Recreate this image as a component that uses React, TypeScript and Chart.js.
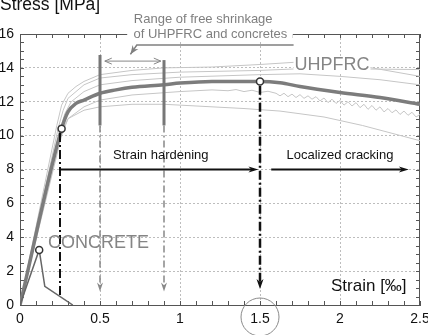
import { useEffect, useRef } from 'react';
import { Chart, registerables } from 'chart.js';

Chart.register(...registerables);

const FONT = '"Liberation Sans", Arial, Helvetica, sans-serif';

// ---- axes ----
const xTickLabels = ['0', '0.5', '1', '1.5', '2', '2.5'];
const yTickLabels = ['0', '2', '4', '6', '8', '10', '12', '14', '16'];
const xMinorStep = 0.1;
const yMinorStep = 0.5;

// ---- UHPFRC mean curve (thick) ----
const meanStrain = [0, 0.26, 0.3, 0.35, 0.4, 0.5, 0.6, 0.7, 0.9, 1.0, 1.2, 1.5, 1.625, 1.75, 2.0, 2.25, 2.5];
const meanStress = [0, 10.4, 11.4, 11.9, 12.1, 12.5, 12.7, 12.85, 13.0, 13.1, 13.2, 13.2, 13.12, 12.9, 12.55, 12.25, 11.85];

// ---- UHPFRC individual specimens (thin) ----
const specAStrain = [0, 0.23, 0.26, 0.3, 0.35, 0.4, 0.5, 0.7, 0.9, 1.2, 1.5, 1.75, 1.9, 2.2, 2.5];
const specAStress = [0, 10.6, 11.8, 12.5, 12.9, 13.2, 13.6, 13.85, 14.0, 14.05, 14.2, 14.35, 14.3, 14.0, 13.5];
const specBStrain = [0, 0.24, 0.27, 0.3, 0.4, 0.5, 0.7, 1.0, 1.5, 1.75, 2.0, 2.5];
const specBStress = [0, 10.5, 11.5, 12.2, 13.0, 13.4, 13.6, 13.75, 13.85, 13.95, 13.95, 13.9];
const specCStrain = [0, 0.25, 0.28, 0.32, 0.4, 0.5, 0.7, 1.0, 1.5, 1.75, 2.0, 2.25, 2.5];
const specCStress = [0, 10.3, 11.3, 12.0, 12.6, 13.0, 13.25, 13.45, 13.6, 13.65, 13.5, 13.3, 13.0];
const specDStrain = [0, 0.25, 0.3, 0.4, 0.5, 0.7, 1.0, 1.2, 1.3, 1.35, 1.4, 1.45, 1.5, 1.55, 1.6, 1.625, 1.65, 1.675, 1.7, 1.725, 1.75, 1.775, 1.8, 1.825, 1.85, 1.875, 1.9, 1.925, 1.95, 1.975, 2.0, 2.025, 2.05, 2.075, 2.1, 2.125, 2.15, 2.175, 2.2, 2.225, 2.25, 2.275, 2.3, 2.325, 2.35, 2.375, 2.4, 2.425, 2.45, 2.475, 2.5];
const specDStress = [0, 10.0, 11.0, 11.7, 12.1, 12.4, 12.6, 12.7, 12.65, 12.72, 12.6, 12.68, 12.55, 12.62, 12.5, 12.35, 12.5, 12.3, 12.45, 12.25, 12.42, 12.2, 12.35, 12.15, 12.3, 12.05, 12.22, 11.95, 12.15, 11.9, 12.08, 11.8, 12.0, 11.75, 11.95, 11.65, 11.85, 11.55, 11.78, 11.5, 11.7, 11.4, 11.6, 11.35, 11.52, 11.25, 11.45, 11.2, 11.38, 11.1, 11.25];
const specEStrain = [0, 0.26, 0.3, 0.4, 0.5, 0.7, 0.9, 1.2, 1.4, 1.625, 1.9, 2.14, 2.3, 2.5];
const specEStress = [0, 10.0, 11.0, 11.5, 11.7, 11.85, 11.85, 11.7, 11.6, 11.45, 11.1, 10.6, 10.2, 9.7];

// ---- concrete ----
const concreteStrain = [0, 0.12, 0.155, 0.33];
const concreteStress = [0, 3.25, 1.1, 0];

// ---- key points (open circles) ----
const keyStrain = [0.26, 1.5, 0.12];
const keyStress = [10.4, 13.2, 3.25];

// ---- annotation values (data units) ----
const shrinkStrain = [0.5, 0.9];
const shrinkBarTop = [14.76, 14.46];
const shrinkBarBottom = [10.6, 10.6];
const shrinkArrowTip = [0.8, 0.8];
const hardeningStrain = 0.25;
const hardeningLine = [10.15, 0.5];
const peakStrain = 1.5;
const peakLine = [12.95, 0.95];
const phaseArrowStress = 8;
const hardeningArrow = [0.25, 1.49];
const crackingArrow = [1.57, 2.43];
const rangeArrowStress = 14.4;
const rangeArrow = [0.53, 0.88];
const noteLeaderX = [1.71, 0.73, 0.69];
const noteLeaderY = [15.35, 15.35, 14.8];

const pts = (xs: number[], ys: number[]) => xs.map((x, i) => ({ x, y: ys[i] }));

const thin = (xs: number[], ys: number[], order: number) => ({
  data: pts(xs, ys),
  showLine: true,
  borderColor: '#c6c6c6',
  borderWidth: 1,
  pointRadius: 0,
  order,
});

const seg = (x1: number, y1: number, x2: number, y2: number, color: string, width: number, dash: number[], order: number) => ({
  data: [{ x: x1, y: y1 }, { x: x2, y: y2 }],
  showLine: true,
  borderColor: color,
  borderWidth: width,
  borderDash: dash,
  pointRadius: 0,
  order,
});

function arrowHead(ctx: CanvasRenderingContext2D, tx: number, ty: number, ang: number, len: number, hw: number, color: string, open = false) {
  const bx = tx - Math.cos(ang) * len;
  const by = ty - Math.sin(ang) * len;
  const nx = -Math.sin(ang) * hw;
  const ny = Math.cos(ang) * hw;
  ctx.save();
  ctx.setLineDash([]);
  if (open) {
    ctx.strokeStyle = color;
    ctx.lineWidth = 1;
    ctx.beginPath();
    ctx.moveTo(bx + nx, by + ny);
    ctx.lineTo(tx, ty);
    ctx.lineTo(bx - nx, by - ny);
    ctx.stroke();
  } else {
    ctx.fillStyle = color;
    ctx.beginPath();
    ctx.moveTo(tx, ty);
    ctx.lineTo(bx + nx, by + ny);
    ctx.lineTo(tx - Math.cos(ang) * len * 0.7, ty - Math.sin(ang) * len * 0.7);
    ctx.lineTo(bx - nx, by - ny);
    ctx.closePath();
    ctx.fill();
  }
  ctx.restore();
}

const annotations = {
  id: 'annotations',
  beforeDatasetsDraw(chart: any) {
    const { ctx, chartArea: a, scales } = chart;
    const x = scales.x;
    const y = scales.y;
    ctx.save();
    ctx.strokeStyle = '#555';
    ctx.lineWidth = 1;
    ctx.setLineDash([]);
    ctx.beginPath();
    ctx.moveTo(a.left, a.top + 0.5);
    ctx.lineTo(a.right, a.top + 0.5);
    ctx.moveTo(a.right - 0.5, a.top);
    ctx.lineTo(a.right - 0.5, a.bottom);
    const nx = Math.round((x.max - x.min) / xMinorStep);
    for (let i = 0; i <= nx; i++) {
      const px = Math.round(x.getPixelForValue(x.min + i * xMinorStep)) + 0.5;
      ctx.moveTo(px, a.bottom);
      ctx.lineTo(px, a.bottom - 4);
      ctx.moveTo(px, a.top);
      ctx.lineTo(px, a.top + 4);
    }
    const ny = Math.round((y.max - y.min) / yMinorStep);
    for (let i = 0; i <= ny; i++) {
      const py = Math.round(y.getPixelForValue(y.min + i * yMinorStep)) + 0.5;
      ctx.moveTo(a.left, py);
      ctx.lineTo(a.left + 4, py);
      ctx.moveTo(a.right, py);
      ctx.lineTo(a.right - 4, py);
    }
    ctx.stroke();
    ctx.restore();
  },
  afterDatasetsDraw(chart: any) {
    const { ctx, chartArea: a, scales } = chart;
    const X = (v: number) => scales.x.getPixelForValue(v);
    const Y = (v: number) => scales.y.getPixelForValue(v);
    ctx.save();

    // arrow heads on vertical dash-dot lines
    shrinkStrain.forEach((s, i) => arrowHead(ctx, X(s), Y(shrinkArrowTip[i]), Math.PI / 2, 9, 3, '#888'));
    arrowHead(ctx, X(peakStrain), Y(peakLine[1]), Math.PI / 2, 10, 3.5, '#111');

    // horizontal phase arrows heads
    arrowHead(ctx, X(hardeningArrow[1]), Y(phaseArrowStress), 0, 10, 3, '#111');
    arrowHead(ctx, X(crackingArrow[1]), Y(phaseArrowStress), 0, 10, 3, '#111');

    // double arrow for shrinkage range
    ctx.strokeStyle = '#888';
    ctx.lineWidth = 1;
    ctx.beginPath();
    ctx.moveTo(X(rangeArrow[0]), Y(rangeArrowStress));
    ctx.lineTo(X(rangeArrow[1]), Y(rangeArrowStress));
    ctx.stroke();
    arrowHead(ctx, X(rangeArrow[0]), Y(rangeArrowStress), Math.PI, 7, 3, '#888', true);
    arrowHead(ctx, X(rangeArrow[1]), Y(rangeArrowStress), 0, 7, 3, '#888', true);

    // white box behind note text (covers top frame)
    ctx.fillStyle = '#fff';
    ctx.fillRect(X(0.67), Y(16.4), X(1.705) - X(0.67), Y(15.55) - Y(16.4));

    // leader line from note
    ctx.strokeStyle = '#808080';
    ctx.lineWidth = 1.5;
    ctx.beginPath();
    noteLeaderX.forEach((v, i) => (i ? ctx.lineTo(X(v), Y(noteLeaderY[i])) : ctx.moveTo(X(v), Y(noteLeaderY[i]))));
    ctx.stroke();
    const n = noteLeaderX.length;
    const ang = Math.atan2(Y(noteLeaderY[n - 1]) - Y(noteLeaderY[n - 2]), X(noteLeaderX[n - 1]) - X(noteLeaderX[n - 2]));
    arrowHead(ctx, X(noteLeaderX[n - 1]), Y(noteLeaderY[n - 1]), ang, 9, 3.5, '#808080');

    const text = (s: string, xv: number, yv: number, size: number, color: string, align: CanvasTextAlign = 'center') => {
      ctx.font = `${size}px ${FONT}`;
      ctx.fillStyle = color;
      ctx.textAlign = align;
      ctx.textBaseline = 'middle';
      ctx.fillText(s, X(xv), Y(yv));
    };

    text('Range of free shrinkage', 1.145, 16.88, 13, '#7f7f7f');
    text('of UHPFRC and concretes', 1.19, 16.0, 13, '#7f7f7f');

    // UHPFRC label with white background
    ctx.font = `18px ${FONT}`;
    const w = ctx.measureText('UHPFRC').width;
    ctx.fillStyle = '#fff';
    ctx.fillRect(X(1.95) - w / 2 - 1, Y(14.17) - 8, w + 2, 16);
    text('UHPFRC', 1.95, 14.17, 18, '#858585');
    text('CONCRETE', 0.49, 3.68, 18, '#858585');
    text('Strain hardening', 0.88, 8.85, 13, '#111');
    text('Localized cracking', 2.0, 8.85, 13, '#111');
    text('Strain [‰]', 2.18, 1.08, 17, '#111');

    // circle around the 1.5 tick label
    ctx.strokeStyle = '#8a8a8a';
    ctx.lineWidth = 1;
    ctx.beginPath();
    ctx.arc(X(peakStrain), a.bottom + 12, 19, 0, Math.PI * 2);
    ctx.stroke();

    // y axis title
    ctx.font = `17.5px ${FONT}`;
    ctx.fillStyle = '#111';
    ctx.textAlign = 'left';
    ctx.textBaseline = 'alphabetic';
    ctx.fillText('Stress [MPa]', 0, 10);

    ctx.restore();
  },
};

export default function App() {
  const ref = useRef<HTMLCanvasElement>(null);
  useEffect(() => {
    document.body.style.margin = '0';
    const canvas = ref.current;
    if (!canvas) return;
    const gridColor = (ctx: any, lo: number, hi: number) =>
      ctx.tick && (ctx.tick.value === lo || ctx.tick.value === hi) ? 'rgba(0,0,0,0)' : '#bdbdbd';
    const chart = new Chart(canvas, {
      type: 'scatter',
      data: {
        datasets: [
          {
            data: pts(keyStrain, keyStress),
            pointRadius: 3.5,
            pointBackgroundColor: '#fff',
            pointBorderColor: '#333',
            pointBorderWidth: 1.5,
            showLine: false,
            order: 0,
          } as any,
          seg(hardeningStrain, hardeningLine[0], hardeningStrain, hardeningLine[1], '#111', 2, [9, 3, 2, 3], 1),
          seg(peakStrain, peakLine[0], peakStrain, peakLine[1] + 0.4, '#111', 2.5, [9, 3, 2, 3], 1),
          seg(hardeningArrow[0], phaseArrowStress, hardeningArrow[1] - 0.03, phaseArrowStress, '#111', 2, [], 1),
          seg(crackingArrow[0], phaseArrowStress, crackingArrow[1] - 0.03, phaseArrowStress, '#111', 2, [], 1),
          seg(shrinkStrain[0], shrinkBarBottom[0], shrinkStrain[0], shrinkArrowTip[0] + 0.4, '#888', 1.5, [7, 3, 2, 3], 2),
          seg(shrinkStrain[1], shrinkBarBottom[1], shrinkStrain[1], shrinkArrowTip[1] + 0.4, '#888', 1.5, [7, 3, 2, 3], 2),
          seg(shrinkStrain[0], shrinkBarBottom[0], shrinkStrain[0], shrinkBarTop[0], '#777', 3, [], 3),
          seg(shrinkStrain[1], shrinkBarBottom[1], shrinkStrain[1], shrinkBarTop[1], '#777', 3, [], 3),
          {
            data: pts(concreteStrain, concreteStress),
            showLine: true,
            borderColor: '#666',
            borderWidth: 1.5,
            pointRadius: 0,
            order: 4,
          } as any,
          {
            data: pts(meanStrain, meanStress),
            showLine: true,
            borderColor: '#7c7c7c',
            borderWidth: 3.5,
            pointRadius: 0,
            tension: 0.3,
            cubicInterpolationMode: 'monotone',
            order: 5,
          } as any,
          thin(specAStrain, specAStress, 6),
          thin(specBStrain, specBStress, 6),
          thin(specCStrain, specCStress, 6),
          thin(specDStrain, specDStress, 6),
          thin(specEStrain, specEStress, 6),
        ],
      },
      options: {
        animation: false,
        responsive: false,
        maintainAspectRatio: false,
        events: [],
        layout: { padding: { top: 34, right: 8, left: 0, bottom: 0 } },
        plugins: { legend: { display: false }, tooltip: { enabled: false } },
        scales: {
          x: {
            type: 'linear',
            min: 0,
            max: 2.5,
            afterFit: (s: any) => {
              s.height = 30;
              s.paddingLeft = 0;
              s.paddingRight = 0;
            },
            ticks: {
              stepSize: 0.5,
              autoSkip: false,
              maxRotation: 0,
              padding: 6,
              color: '#111',
              font: { size: 14, family: FONT },
              callback: (_v: any, i: number) => xTickLabels[i],
            },
            grid: { drawTicks: false, lineWidth: 1, color: (c: any) => gridColor(c, 0, 2.5) },
            border: { display: true, color: '#555', width: 1, dash: [2, 2] },
          },
          y: {
            type: 'linear',
            min: 0,
            max: 16,
            afterFit: (s: any) => {
              s.width = 20;
              s.paddingTop = 0;
              s.paddingBottom = 0;
            },
            ticks: {
              stepSize: 2,
              autoSkip: false,
              padding: 6,
              color: '#111',
              font: { size: 14, family: FONT },
              callback: (_v: any, i: number) => yTickLabels[i],
            },
            grid: { drawTicks: false, lineWidth: 1, color: (c: any) => gridColor(c, 0, 16) },
            border: { display: true, color: '#555', width: 1, dash: [2, 2] },
          },
        },
      } as any,
      plugins: [annotations],
    });
    return () => chart.destroy();
  }, []);
  return <canvas ref={ref} width={428} height={335} style={{ display: 'block', width: 428, height: 335 }} />;
}
